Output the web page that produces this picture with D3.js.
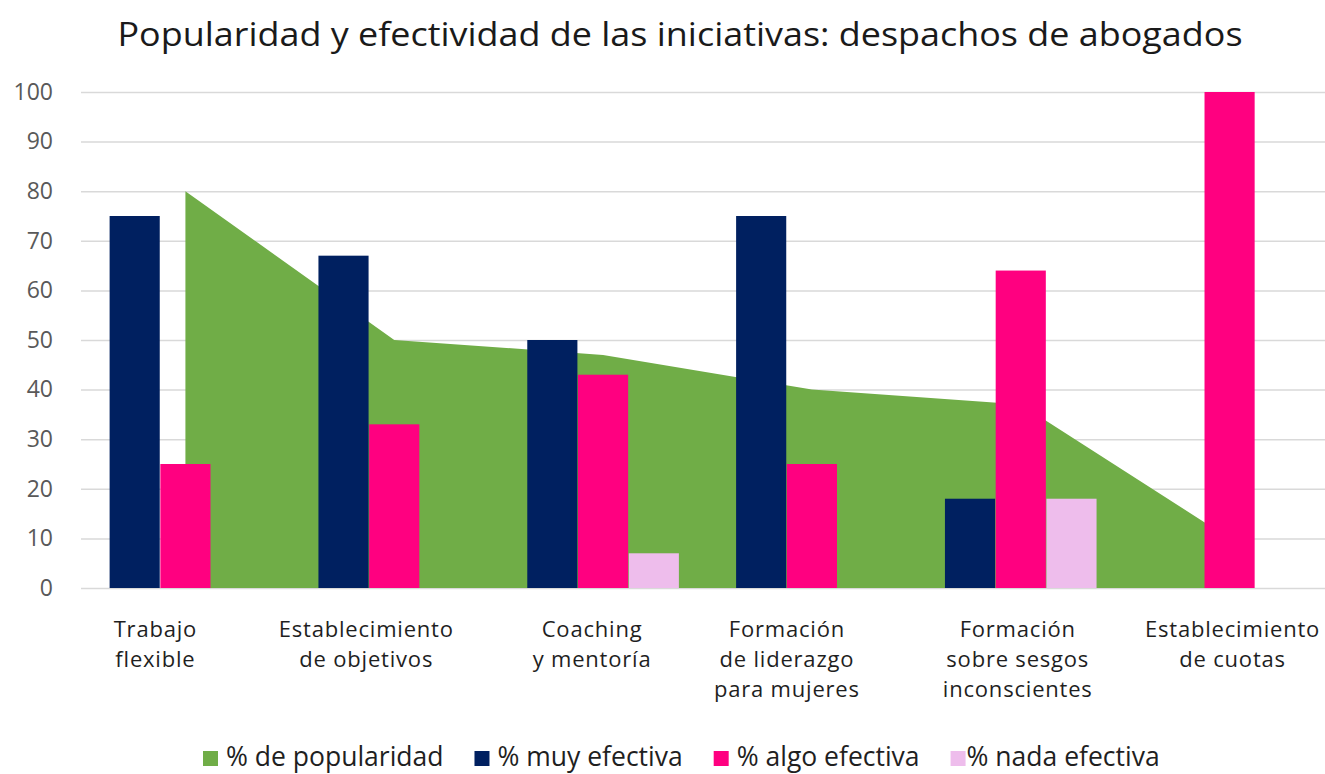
<!DOCTYPE html>
<html><head><meta charset="utf-8">
<script src="https://cdn.jsdelivr.net/npm/d3@7"></script>
<style>
html,body{margin:0;padding:0;background:#fff;}
svg{display:block;font-family:"Open Sans","Noto Sans",sans-serif;}
</style></head>
<body><svg id="chart" width="1325" height="774"></svg>
<script>
const title = "Popularidad y efectividad de las iniciativas: despachos de abogados";
const categories = [
  ["Trabajo", "flexible"],
  ["Establecimiento", "de objetivos"],
  ["Coaching", "y mentoría"],
  ["Formación", "de liderazgo", "para mujeres"],
  ["Formación", "sobre sesgos", "inconscientes"],
  ["Establecimiento", "de cuotas"]
];
const popularidad = [80, 50, 47, 40, 37, 10];
const muyEfectiva = [75, 67, 50, 75, 18, 0];
const algoEfectiva = [25, 33, 43, 25, 64, 100];
const nadaEfectiva = [0, 0, 7, 0, 18, 0];
const yTicks = [0, 10, 20, 30, 40, 50, 60, 70, 80, 90, 100];
const seriesNames = ["% de popularidad", "% muy efectiva", "% algo efectiva", "% nada efectiva"];
const colors = ["#70AD47", "#002060", "#FF0080", "#EEBDEC"];

const svg = d3.select("#chart");
const plot = {left: 81, right: 1334, top: 92, bottom: 588};
// layout: horizontal nudges of the category labels as placed in the original
const labelShift = [-30, -28, -11, -25, -3, 3];

const idx = categories.map((d, i) => i);
const x = d3.scaleBand().domain(idx).range([plot.left, plot.right]).paddingInner(0).paddingOuter(0);
const y = d3.scaleLinear().domain([0, 100]).range([plot.bottom, plot.top]);
const barSeries = [muyEfectiva, algoEfectiva, nadaEfectiva];
const groupW = x.bandwidth() * 0.726;
const xs = d3.scaleBand().domain([0, 1, 2]).range([0, groupW]).paddingInner(0.012);

// title
svg.append("text").attr("x", 680).attr("y", 46).attr("text-anchor", "middle")
  .attr("font-size", 32).attr("fill", "#1a1a1a")
  .attr("textLength", 1125).attr("lengthAdjust", "spacingAndGlyphs")
  .text(title);

// grid + y axis
const yAxis = d3.axisLeft(y).tickValues(yTicks).tickSize(-(plot.right - plot.left)).tickPadding(28);
const gy = svg.append("g").attr("transform", `translate(${plot.left},0)`).call(yAxis);
gy.select(".domain").remove();
gy.selectAll(".tick line").attr("stroke", "#d9d9d9").attr("stroke-width", 1.5);
gy.selectAll(".tick text").attr("font-size", 23).attr("fill", "#595959")
  .attr("font-family", "'Open Sans','Noto Sans',sans-serif");

// area
const area = d3.area()
  .x((d, i) => x(i) + x.bandwidth() / 2)
  .y0(y(0)).y1(d => y(d));
svg.append("path").datum(popularidad).attr("d", area).attr("fill", colors[0]);

// bars
barSeries.forEach((vals, s) => {
  svg.append("g").selectAll("rect").data(vals).join("rect")
    .attr("x", (d, i) => x(i) + (x.bandwidth() - groupW) / 2 + xs(s))
    .attr("width", xs.bandwidth())
    .attr("y", d => y(d))
    .attr("height", d => y(0) - y(d))
    .attr("fill", colors[s + 1]);
});

// x labels
const xl = svg.append("g");
categories.forEach((lines, i) => {
  lines.forEach((ln, j) => {
    xl.append("text").attr("text-anchor", "middle")
      .attr("font-size", 22).attr("letter-spacing", "0.8px").attr("fill", "#1f1f1f")
      .attr("x", x(i) + x.bandwidth() / 2 + labelShift[i]).attr("y", 637 + j * 30).text(ln);
  });
});

// legend
const lg = svg.append("g");
let cx = 203;
seriesNames.forEach((n, i) => {
  lg.append("rect").attr("x", cx).attr("y", 751).attr("width", 15).attr("height", 15).attr("fill", colors[i]);
  const gap = i === 3 ? 16 : 23;
  const t = lg.append("text").attr("x", cx + gap).attr("y", 766)
    .attr("font-size", 26.5).attr("fill", "#1f1f1f").text(n);
  const w = t.node().getComputedTextLength();
  cx = cx + gap + w + 31;
});
</script></body></html>
